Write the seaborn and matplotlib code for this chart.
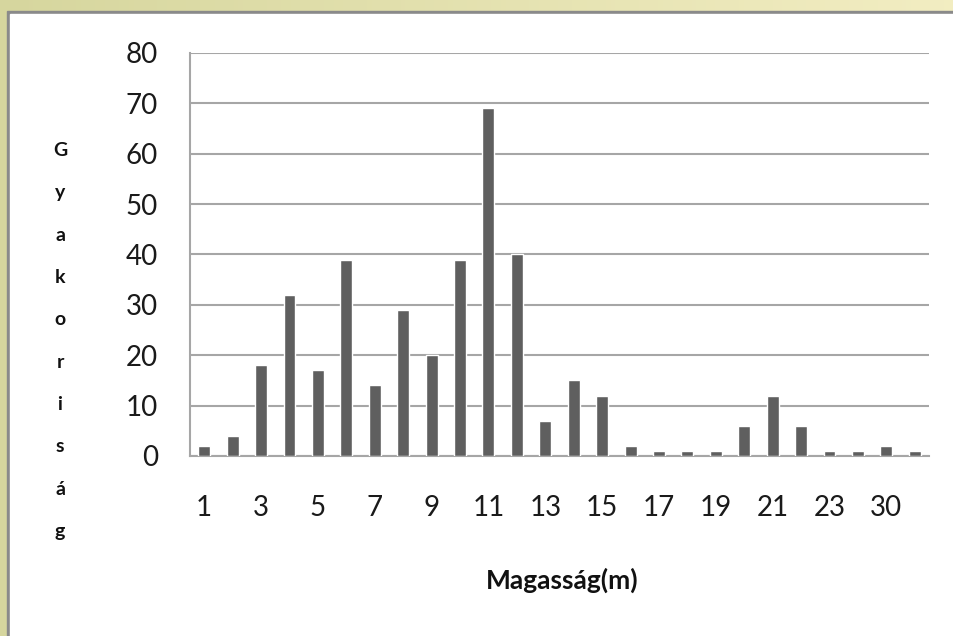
import matplotlib
matplotlib.use("Agg")
import matplotlib.pyplot as plt
import numpy as np
import pandas as pd
import seaborn as sns
from matplotlib.patches import Rectangle

# ~~~~~~~~~~~~~~~~~~~~~~~~~~~~~~~~~~~~~~~~~~~~~~~~~~~~~~~~~~~~~~~~~~~~~~~
# DATA
# ~~~~~~~~~~~~~~~~~~~~~~~~~~~~~~~~~~~~~~~~~~~~~~~~~~~~~~~~~~~~~~~~~~~~~~~
heights = [str(i) for i in range(1, 24)] + ["25", "30", "35"]
counts = [2, 4, 18, 32, 17, 39, 14, 29, 20, 39, 69, 40, 7, 15, 12,
          2, 1, 1, 1, 6, 12, 6, 1, 1, 2, 1]
# Excel only shows every second category label
shown_labels = heights[::2]
y_ticks = [0, 10, 20, 30, 40, 50, 60, 70, 80]

df = pd.DataFrame({"Magasság": heights, "Gyakoriság": counts})

sns.set_style("white")
plt.rcParams["font.family"] = ["Lato", "DejaVu Sans"]

W, H = 954, 636
fig = plt.figure(figsize=(W / 100, H / 100), dpi=100)

# ~~~~~~~~~~~~~~~~~~~~~~~~~~~~~~~~~~~~~~~~~~~~~~~~~~~~~~~~~~~~~~~~~~~~~~~
# yellowish frame + white chart area
# ~~~~~~~~~~~~~~~~~~~~~~~~~~~~~~~~~~~~~~~~~~~~~~~~~~~~~~~~~~~~~~~~~~~~~~~
bg = fig.add_axes([0, 0, 1, 1], zorder=-10)
c0 = np.array([0.84, 0.84, 0.62])
c1 = np.array([0.95, 0.93, 0.76])
t = np.linspace(0, 1, 200)[None, :, None]
grad = c0 + (c1 - c0) * t
grad = np.repeat(grad, 2, axis=0)
bg.imshow(grad, aspect="auto", extent=[0, 1, 0, 1])
bg.add_patch(Rectangle((7 / W, 0), 1, 1 - 11 / H, color="#8a8a8a"))
bg.add_patch(Rectangle((10 / W, 0), 1, 1 - 14 / H, color="white"))
bg.set_xlim(0, 1)
bg.set_ylim(0, 1)
bg.axis("off")

# ~~~~~~~~~~~~~~~~~~~~~~~~~~~~~~~~~~~~~~~~~~~~~~~~~~~~~~~~~~~~~~~~~~~~~~~
# bar chart
# ~~~~~~~~~~~~~~~~~~~~~~~~~~~~~~~~~~~~~~~~~~~~~~~~~~~~~~~~~~~~~~~~~~~~~~~
left, right, top, bottom = 190, 929, 53, 456
ax = fig.add_axes([left / W, 1 - bottom / H, (right - left) / W, (bottom - top) / H])
ax.patch.set_alpha(0)
sns.barplot(data=df, x="Magasság", y="Gyakoriság", color="#5f5f5f",
            width=0.42, saturation=1, ax=ax, zorder=3)

n = len(heights)
ax.set_xlim(-0.5, n - 0.5)
ax.set_ylim(0, 80)
ax.set_yticks(y_ticks)
ax.set_yticklabels([str(v) for v in y_ticks])
ax.yaxis.grid(True, color="#a6a6a6", lw=1.5, zorder=0)
ax.set_axisbelow(True)

# ticks between categories, labels at every second category
ax.set_xticks(np.arange(-0.5, n, 1.0))
ax.set_xticklabels([])
ax.set_xticks(np.arange(0, n, 2), minor=True)
ax.set_xticklabels(shown_labels, minor=True)
ax.tick_params(axis="x", which="major", length=8, width=1.5, color="#a6a6a6",
               direction="out")
ax.tick_params(axis="x", which="minor", length=0, pad=28, labelsize=20,
               labelcolor="#1a1a1a")
ax.tick_params(axis="y", length=7, width=1.5, color="#a6a6a6", pad=16,
               labelsize=20, labelcolor="#1a1a1a")

for s in ["top", "right"]:
    ax.spines[s].set_visible(False)
for s in ["left", "bottom"]:
    ax.spines[s].set_color("#a6a6a6")
    ax.spines[s].set_linewidth(1.5)

ax.set_xlabel("Magasság(m)", fontsize=19, fontweight="bold", color="#111111")
ax.xaxis.set_label_coords((562 - left) / (right - left), (bottom - 568) / (bottom - top))
ax.set_ylabel("\n".join("Gyakoriság"), rotation=0, fontsize=14, fontweight="bold",
              linespacing=2.81, va="center", ha="center", color="#111111")
ax.yaxis.set_label_coords((60 - left) / (right - left), (bottom - 341) / (bottom - top))

fig.savefig("out.png", dpi=100)
